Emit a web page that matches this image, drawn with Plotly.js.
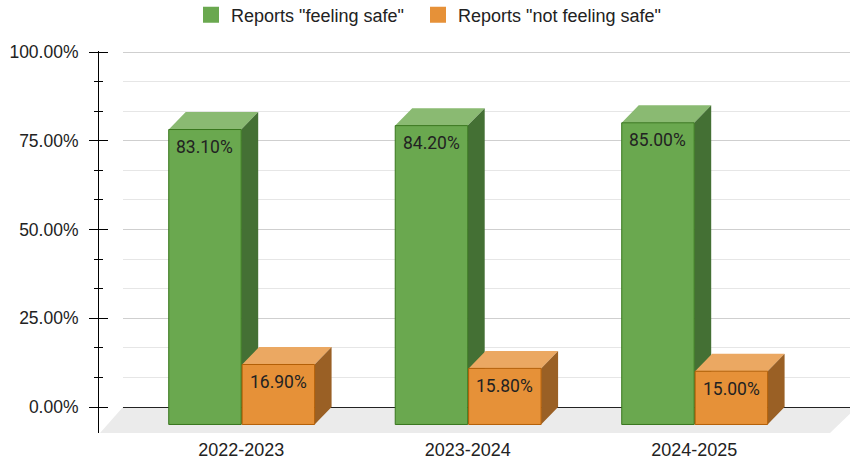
<!DOCTYPE html>
<html>
<head>
<meta charset="utf-8">
<script src="https://cdn.plot.ly/plotly-3.0.1.min.js"></script>
<style>html,body{margin:0;padding:0;background:#fff;}#chart{width:850px;height:460px;}</style>
</head>
<body>
<div id="chart"></div>
<script>
// ---- data ----
const categories = ['2022-2023', '2023-2024', '2024-2025'];
const seriesNames = ['Reports "feeling safe"', 'Reports "not feeling safe"'];
const feelingSafe = [83.1, 84.2, 85.0];
const notFeelingSafe = [16.9, 15.8, 15.0];
const yTickVals = [0, 25, 50, 75, 100];
const yTickText = ['0.00%', '25.00%', '50.00%', '75.00%', '100.00%'];

// ---- style / geometry ----
const BAR_W = 0.32, DX = 0.075, DY = 4.92;
const Y_RANGE = [-7.32, 100.3];
const AXIS_FONT = 'Liberation Sans, Arial, sans-serif';
const styles = [
  {offset: -0.32, front: '#6aa84f', border: '#38761d', top: '#8aba72', side: '#447034', legendX: 191},
  {offset: 0.004, front: '#e69138', border: '#b45f06', top: '#eba862', side: '#9a6025', legendX: 418}
];

function faces(vals, offset) {
  const f = {fx: [], fy: [], tx: [], ty: [], sx: [], sy: [], lab: []};
  vals.forEach((v, i) => {
    const x0 = i + offset, x1 = x0 + BAR_W, t = v - DY, b = -DY;
    f.fx.push(x0, x1, x1, x0, x0, null); f.fy.push(b, b, t, t, b, null);
    f.tx.push(x0, x1, x1 + DX, x0 + DX, x0, null); f.ty.push(t, t, v, v, t, null);
    f.sx.push(x1, x1 + DX, x1 + DX, x1, x1, null); f.sy.push(b, 0, v, t, b, null);
    f.lab.push({x: x0 + BAR_W / 2, y: t, text: v.toFixed(2) + '%'});
  });
  return f;
}

const traces = [];
const annotations = [];
[feelingSafe, notFeelingSafe].forEach((vals, k) => {
  const s = styles[k];
  const f = faces(vals, s.offset);
  traces.push({type: 'scatter', mode: 'none', x: f.tx, y: f.ty, fill: 'toself', fillcolor: s.top,
    showlegend: false, hoverinfo: 'skip'});
  traces.push({type: 'scatter', mode: 'none', x: f.sx, y: f.sy, fill: 'toself', fillcolor: s.side,
    showlegend: false, hoverinfo: 'skip'});
  traces.push({type: 'scatter', mode: 'lines', x: f.fx, y: f.fy, fill: 'toself', fillcolor: s.front,
    line: {color: s.border, width: 1}, showlegend: false, hoverinfo: 'skip'});
  f.lab.forEach(l => annotations.push({x: l.x, y: l.y, text: l.text, showarrow: false,
    yanchor: 'middle', yshift: -17.5, font: {family: 'Roboto, sans-serif', size: 17.5, color: '#222'}}));
});
// legend entries (one legend per series so each can be placed exactly)
seriesNames.forEach((n, k) => traces.push({type: 'scatter', mode: 'markers', x: [null], y: [null], name: n,
  legend: k === 0 ? 'legend' : 'legend2',
  marker: {symbol: 'square', size: 16, color: styles[k].front}, hoverinfo: 'skip'}));
// helper trace for the right-hand tick axis
traces.push({type: 'scatter', mode: 'none', x: [null], y: [null], yaxis: 'y2', showlegend: false, hoverinfo: 'skip'});

const L = 98, PW = 850 - L, T = 50.6, B = 27, PH = 460 - T - B;
const legendBase = {orientation: 'h', xanchor: 'left', y: 1 + (T - 14.5) / PH, yanchor: 'middle',
  font: {family: AXIS_FONT, size: 18, color: '#222'}, bgcolor: 'rgba(0,0,0,0)', itemsizing: 'trace'};
const layout = {
  width: 850, height: 460,
  margin: {l: L, r: 0, t: T, b: B, pad: 0, autoexpand: false},
  paper_bgcolor: '#fff', plot_bgcolor: 'rgba(0,0,0,0)',
  showlegend: true,
  legend: Object.assign({}, legendBase, {x: (styles[0].legendX - L) / PW}),
  legend2: Object.assign({}, legendBase, {x: (styles[1].legendX - L) / PW}),
  xaxis: {domain: [(123 - L) / PW, 1], range: [-0.5219, 2.6878], tickmode: 'array',
    tickvals: categories.map((c, i) => i), ticktext: categories, ticks: '', showgrid: false,
    zeroline: false, showline: false, ticklabelstandoff: 4,
    tickfont: {family: AXIS_FONT, size: 18, color: '#222'}, fixedrange: true},
  yaxis: {range: Y_RANGE, anchor: 'free', position: 0, side: 'left', tickmode: 'array',
    tickvals: yTickVals, ticktext: yTickText, ticks: 'outside', ticklen: 9, tickcolor: '#000', tickwidth: 1,
    showline: true, linecolor: '#000', linewidth: 1, showgrid: true, gridcolor: '#cfcfcf',
    zeroline: true, zerolinecolor: '#222', zerolinewidth: 1, ticklabelstandoff: 7,
    minor: {dtick: 25 / 3, tick0: 0, ticks: 'outside', ticklen: 4, tickcolor: '#000', showgrid: true, gridcolor: '#e6e6e6'},
    tickfont: {family: AXIS_FONT, size: 17.5, color: '#222'}, fixedrange: true},
  yaxis2: {range: Y_RANGE, overlaying: 'y', anchor: 'free', position: 0, side: 'right', tickmode: 'array',
    tickvals: yTickVals, ticks: 'outside', ticklen: 9, tickcolor: '#000', tickwidth: 1,
    showticklabels: false, showgrid: false, zeroline: false, showline: false,
    minor: {dtick: 25 / 3, tick0: 0, ticks: 'outside', ticklen: 4, tickcolor: '#000', showgrid: false},
    fixedrange: true},
  shapes: [{type: 'path', xref: 'paper', yref: 'y', layer: 'below',
    path: `M ${(123 - L) / PW} 0 L ${(857 - L) / PW} 0 L ${(830 - L) / PW} ${Y_RANGE[0]} L ${(100 - L) / PW} ${Y_RANGE[0]} Z`,
    fillcolor: '#ebebeb', line: {width: 0}}],
  annotations: annotations
};

Plotly.newPlot('chart', traces, layout, {displayModeBar: false, staticPlot: true});
</script>
</body>
</html>
